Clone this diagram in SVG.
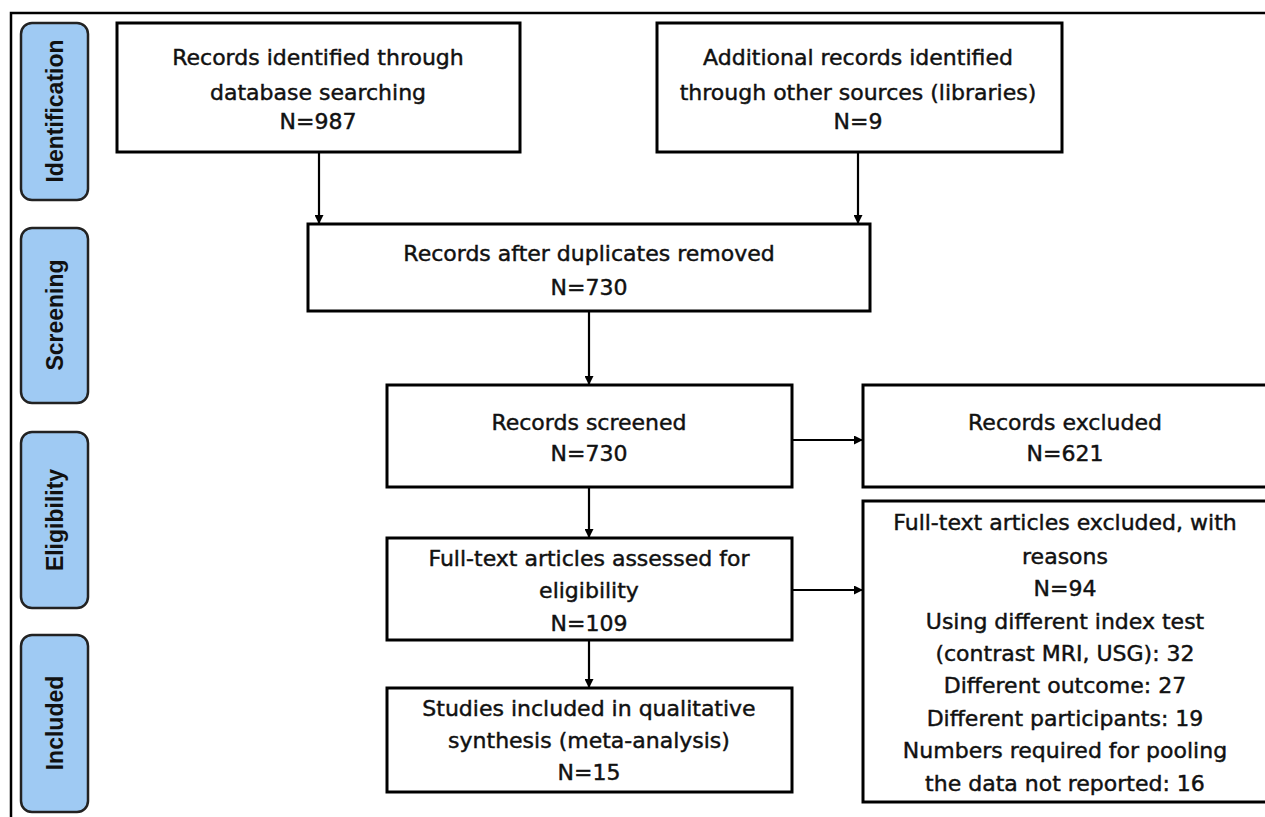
<svg xmlns="http://www.w3.org/2000/svg" width="1265" height="817" viewBox="0 0 1265 817">
<style>
.box{fill:#fff;stroke:#000;stroke-width:3}
.stage{fill:#9fcaf3;stroke:#222;stroke-width:2.5}
.t{font-family:"DejaVu Sans",sans-serif;font-size:22px;fill:#111;stroke:#111;stroke-width:0.45;text-anchor:middle}
.st{font-family:"Liberation Sans",Arial,sans-serif;font-weight:700;font-size:23px;fill:#111;text-anchor:middle;dominant-baseline:central}
.c{stroke:#000;stroke-width:2.2;fill:none;marker-end:url(#ah)}
</style>
<defs>
<marker id="ah" markerWidth="9" markerHeight="9" refX="8" refY="4.5" orient="auto" markerUnits="userSpaceOnUse">
<path d="M0,0 L9,4.5 L0,9 Z" fill="#000"/>
</marker>
</defs>
<rect width="1265" height="817" fill="#fff"/>
<g id="frame">
<path d="M11,817 V13 H1265" fill="none" stroke="#000" stroke-width="2.5"/>
</g>
<g id="stage-identification">
<rect class="stage" x="21" y="23" width="67" height="177" rx="11"/>
<text class="st" transform="translate(54.5,111) rotate(-90)">Identification</text>
</g>
<g id="stage-screening">
<rect class="stage" x="21" y="228" width="67" height="175" rx="11"/>
<text class="st" transform="translate(54.5,315) rotate(-90)">Screening</text>
</g>
<g id="stage-eligibility">
<rect class="stage" x="21" y="432" width="67" height="176" rx="11"/>
<text class="st" transform="translate(54.5,520) rotate(-90)">Eligibility</text>
</g>
<g id="stage-included">
<rect class="stage" x="21" y="635" width="67" height="177" rx="11"/>
<text class="st" transform="translate(54.5,723) rotate(-90)">Included</text>
</g>
<g id="connectors">
<line class="c" x1="319" y1="153" x2="319" y2="223"/>
<line class="c" x1="858" y1="153" x2="858" y2="223"/>
<line class="c" x1="589" y1="312" x2="589" y2="384"/>
<line class="c" x1="589" y1="488" x2="589" y2="537"/>
<line class="c" x1="589" y1="641" x2="589" y2="687"/>
<line class="c" x1="793" y1="440" x2="862" y2="440"/>
<line class="c" x1="793" y1="590" x2="862" y2="590"/>
</g>
<g id="n-database">
<rect class="box" x="117" y="23" width="403" height="129"/>
<text class="t" x="318" y="65">Records identified through</text>
<text class="t" x="318" y="100">database searching</text>
<text class="t" x="318" y="129">N=987</text>
</g>
<g id="n-other">
<rect class="box" x="657" y="23" width="405" height="129"/>
<text class="t" x="858" y="65">Additional records identified</text>
<text class="t" x="858" y="100">through other sources (libraries)</text>
<text class="t" x="858" y="129">N=9</text>
</g>
<g id="n-duplicates">
<rect class="box" x="308" y="224" width="562" height="87"/>
<text class="t" x="589" y="261">Records after duplicates removed</text>
<text class="t" x="589" y="295">N=730</text>
</g>
<g id="n-screened">
<rect class="box" x="387" y="385" width="405" height="102"/>
<text class="t" x="589" y="430">Records screened</text>
<text class="t" x="589" y="461">N=730</text>
</g>
<g id="n-excluded">
<rect class="box" x="863" y="385" width="405" height="102"/>
<text class="t" x="1065" y="430">Records excluded</text>
<text class="t" x="1065" y="461">N=621</text>
</g>
<g id="n-fulltext">
<rect class="box" x="387" y="538" width="405" height="102"/>
<text class="t" x="589" y="566">Full-text articles assessed for</text>
<text class="t" x="589" y="598">eligibility</text>
<text class="t" x="589" y="631">N=109</text>
</g>
<g id="n-fulltext-excluded">
<rect class="box" x="863" y="501" width="405" height="301"/>
<text class="t" x="1065" y="530">Full-text articles excluded, with</text>
<text class="t" x="1065" y="564">reasons</text>
<text class="t" x="1065" y="596">N=94</text>
<text class="t" x="1065" y="629">Using different index test</text>
<text class="t" x="1065" y="661">(contrast MRI, USG): 32</text>
<text class="t" x="1065" y="693">Different outcome: 27</text>
<text class="t" x="1065" y="726">Different participants: 19</text>
<text class="t" x="1065" y="758">Numbers required for pooling</text>
<text class="t" x="1065" y="791">the data not reported: 16</text>
</g>
<g id="n-included">
<rect class="box" x="387" y="688" width="405" height="104"/>
<text class="t" x="589" y="716">Studies included in qualitative</text>
<text class="t" x="589" y="748">synthesis (meta-analysis)</text>
<text class="t" x="589" y="780">N=15</text>
</g>
</svg>
